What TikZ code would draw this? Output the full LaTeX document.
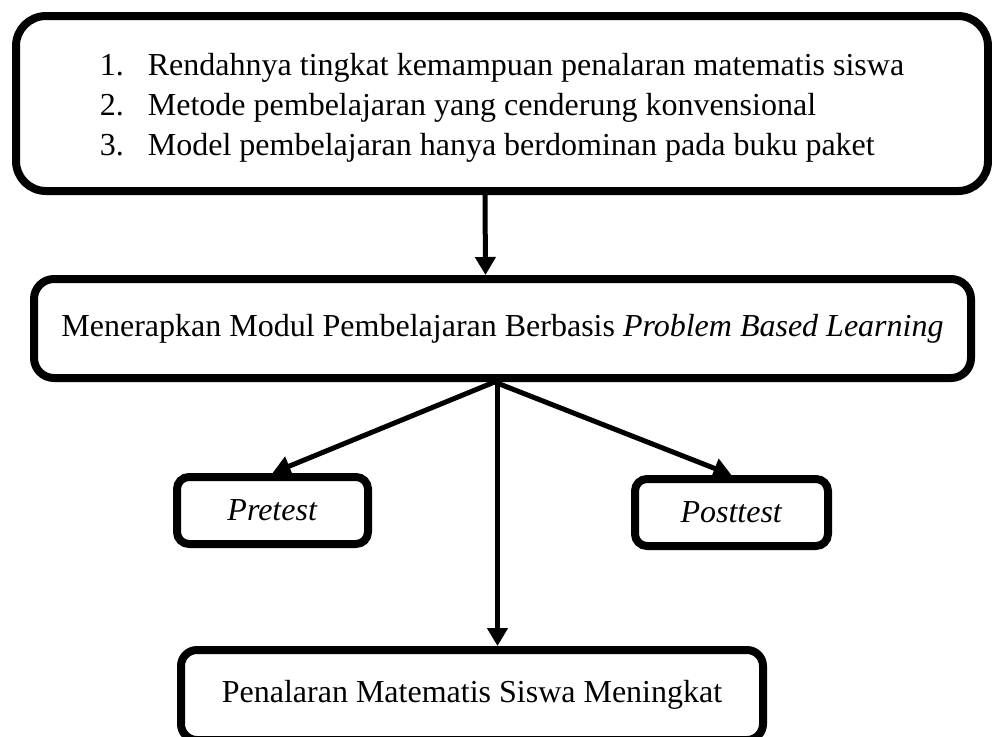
\documentclass[tikz,border=0pt]{standalone}
\usepackage{fontspec}
\setmainfont{Liberation Serif}
\usetikzlibrary{arrows.meta}

\begin{document}
\begin{tikzpicture}[x=0.5pt,y=-0.5pt,
    box/.style={draw, line width=4pt, font=\fontsize{16}{20}\selectfont, inner sep=0pt},
    arr/.style={line width=2.5pt, -{Triangle[length=9pt,width=10pt]}}]
    \useasboundingbox (0,0) rectangle (992,736);
    % problems
    \node[box, rounded corners=15pt, minimum width=486pt, minimum height=87.5pt, align=left] (masalah) at (502,103.5)
        {\rule{0pt}{15pt}\makebox[24pt][l]{1.}Rendahnya tingkat kemampuan penalaran matematis siswa\\
         \makebox[24pt][l]{2.}Metode pembelajaran yang cenderung konvensional\\
         \makebox[24pt][l]{3.}Model pembelajaran hanya berdominan pada buku paket};
    \node[box, rounded corners=10pt, minimum width=468.5pt, minimum height=49.5pt] (modul) at (502.5,328.5)
        {Menerapkan Modul Pembelajaran Berbasis \textit{Problem Based Learning}};
    \node[box, rounded corners=6pt, minimum width=95.5pt, minimum height=33.5pt] (pre) at (272.5,510.5) {\textit{Pretest}};
    \node[box, rounded corners=6pt, minimum width=96.5pt, minimum height=33.5pt] (post) at (731.5,512.5) {\textit{Posttest}};
    \node[box, rounded corners=8pt, minimum width=291pt, minimum height=45pt] (hasil) at (472,695)
        {Penalaran Matematis Siswa Meningkat};
    % arrows
    \draw[arr] ([xshift=-8.5pt]masalah.south) -- ([xshift=-8.5pt]modul.north);
    \draw[arr] ([xshift=-4pt]modul.south) -- (pre.north);
    \draw[arr] ([xshift=-4pt]modul.south) -- (post.north);
    \draw[arr] ([xshift=-2.5pt]modul.south) -- ([xshift=-2.5pt]modul.south |- hasil.north);
\end{tikzpicture}
\end{document}
